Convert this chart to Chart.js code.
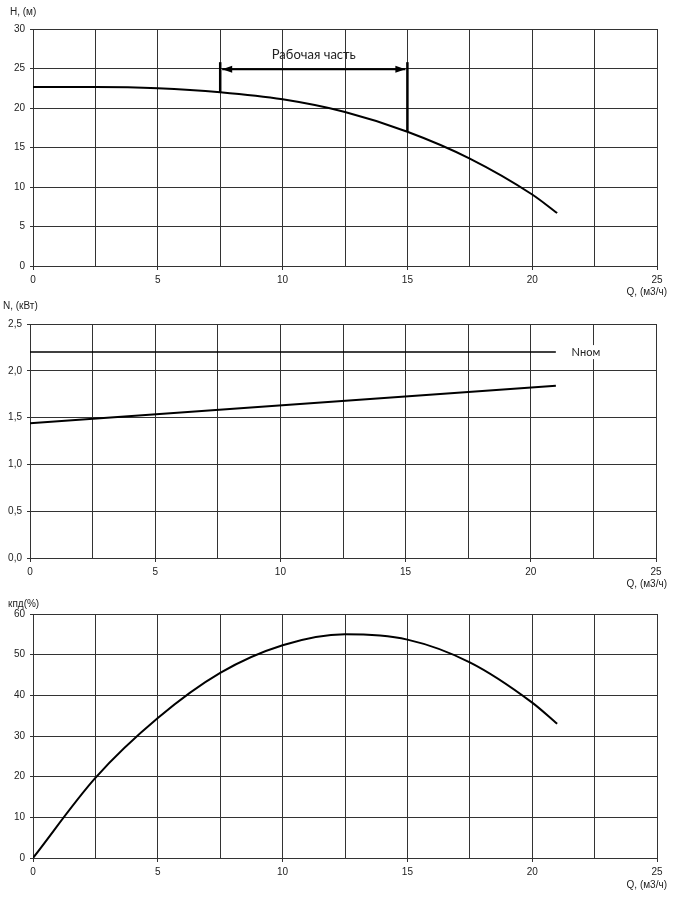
<!DOCTYPE html>
<html>
<head>
<meta charset="utf-8">
<script src="https://cdn.jsdelivr.net/npm/chart.js@4.4.1/dist/chart.umd.min.js"></script>
<style>
  body { margin: 0; background: #fff; }
  canvas { display: block; }
</style>
</head>
<body>
<canvas id="head-chart" width="673" height="300"></canvas>
<canvas id="power-chart" width="673" height="290"></canvas>
<canvas id="eff-chart" width="673" height="310"></canvas>
<script>
// H(Q) curve
const qHead = [0, 2.5, 5, 7.5, 10, 12.5, 15, 17.5, 20, 21];
const headValues = [22.65, 22.65, 22.5, 22.0, 21.1, 19.5, 17.0, 13.6, 9.05, 6.7];

// working range bracket (Q from / to, top of bracket, arrow level, label level)
const workRange = [7.5, 15];
const workBottom = [22.0, 17.0];
const workTop = 25.8;
const workArrow = 24.9;
const workLabelH = 26.7;

// N(Q) curve
const qPower = [0, 21];
const powerValues = [1.44, 1.84];
const nominalPower = [2.2, 2.2];

// efficiency curve
const qEff = [0, 2.5, 5, 7.5, 10, 12.5, 15, 17.5, 20, 21];
const effValues = [0, 19.7, 34.4, 45.5, 52.3, 55.0, 53.7, 48.1, 38.2, 33.0];

const xTicks = [0, 5, 10, 15, 20, 25];

const FONT = '"Liberation Sans", Arial, sans-serif';
const GRID = '#333';

function pts(xs, ys) {
  return xs.map((x, i) => ({ x: x, y: ys[i] }));
}

function curve(data, width) {
  return {
    data: data,
    showLine: true,
    borderColor: '#000',
    borderWidth: width || 2,
    pointRadius: 0,
    cubicInterpolationMode: 'monotone',
    fill: false
  };
}

// axis titles and small annotations, drawn at fixed spots / data coords
const textsPlugin = {
  id: 'texts',
  afterDraw(chart, args, opts) {
    const c = chart.ctx;
    c.save();
    c.fillStyle = '#222';
    c.font = '10px ' + FONT;
    c.textBaseline = 'middle';
    c.textAlign = 'left';
    c.fillText(opts.yTitle, opts.yTitleX, opts.yTitleY);
    c.textAlign = 'right';
    c.fillText('Q, (м3/ч)', 667, opts.xTitleY);
    c.restore();
  },
  afterDatasetsDraw(chart, args, opts) {
    const c = chart.ctx;
    const xs = chart.scales.x, ys = chart.scales.y;
    c.save();
    if (opts.work) {
      const x1 = xs.getPixelForValue(workRange[0]);
      const x2 = xs.getPixelForValue(workRange[1]);
      const y = ys.getPixelForValue(workArrow);
      c.strokeStyle = '#000';
      c.fillStyle = '#000';
      c.lineWidth = 2;
      c.beginPath();
      c.moveTo(x1 + 2, y);
      c.lineTo(x2 - 2, y);
      c.stroke();
      [[x1 + 2, 1], [x2 - 2, -1]].forEach(([px, dir]) => {
        c.beginPath();
        c.moveTo(px, y);
        c.lineTo(px + dir * 10, y - 3.5);
        c.lineTo(px + dir * 10, y + 3.5);
        c.closePath();
        c.fill();
      });
      c.font = '13px Lato, "Open Sans", sans-serif';
      c.textAlign = 'center';
      c.textBaseline = 'middle';
      c.fillStyle = '#222';
      c.fillText('Рабочая часть', xs.getPixelForValue((workRange[0] + workRange[1]) / 2), ys.getPixelForValue(workLabelH));
    }
    if (opts.nom) {
      const px = xs.getPixelForValue(22.2);
      const py = ys.getPixelForValue(nominalPower[0]);
      c.font = '11px Lato, "Open Sans", sans-serif';
      c.textAlign = 'center';
      c.textBaseline = 'middle';
      const w = c.measureText('Nном').width;
      c.fillStyle = '#fff';
      c.fillRect(px - w / 2 - 2, py - 7, w + 4, 14);
      c.fillStyle = '#222';
      c.fillText('Nном', px, py);
    }
    c.restore();
  }
};

function makeChart(id, cfg) {
  const ctx = document.getElementById(id).getContext('2d');
  return new Chart(ctx, {
    type: 'scatter',
    data: { datasets: cfg.datasets },
    options: {
      responsive: false,
      animation: false,
      layout: { padding: { top: cfg.padTop, right: cfg.padRight, left: 0, bottom: 0 } },
      plugins: {
        legend: { display: false },
        tooltip: { enabled: false },
        texts: cfg.texts
      },
      scales: {
        x: {
          type: 'linear',
          min: 0,
          max: 25,
          afterBuildTicks: scale => {
            const t = [];
            for (let v = 0; v <= 25; v += 2.5) t.push({ value: v });
            scale.ticks = t;
          },
          afterFit: scale => { scale.height = cfg.xHeight; },
          grid: {
            color: GRID,
            lineWidth: 1,
            tickLength: 4,
            tickColor: c => (c.tick && xTicks.includes(c.tick.value)) ? GRID : 'rgba(0,0,0,0)'
          },
          border: { color: GRID, width: 1 },
          ticks: {
            autoSkip: false,
            maxRotation: 0,
            padding: 4,
            color: '#222',
            font: { family: FONT, size: 10 },
            callback: v => xTicks.includes(v) ? String(v) : ''
          }
        },
        y: {
          min: cfg.yMin,
          max: cfg.yMax,
          afterFit: scale => { scale.width = cfg.yWidth; },
          grid: { color: GRID, lineWidth: 1, tickLength: 3 },
          border: { color: GRID, width: 1 },
          ticks: {
            stepSize: cfg.yStep,
            padding: 5,
            color: '#222',
            font: { family: FONT, size: 10 },
            callback: cfg.yFormat
          }
        }
      }
    },
    plugins: [textsPlugin]
  });
}

const headBracketL = curve(pts([workRange[0], workRange[0]], [workTop, workBottom[0]]), 2.5);
const headBracketR = curve(pts([workRange[1], workRange[1]], [workTop, workBottom[1]]), 2.5);

makeChart('head-chart', {
  datasets: [curve(pts(qHead, headValues)), headBracketL, headBracketR],
  padTop: 29, padRight: 16, xHeight: 34, yWidth: 33,
  yMin: 0, yMax: 30, yStep: 5,
  yFormat: v => String(v),
  texts: { yTitle: 'H, (м)', yTitleX: 10, yTitleY: 12, xTitleY: 292, work: true }
});

makeChart('power-chart', {
  datasets: [
    curve(pts(qPower, nominalPower), 1.5),
    curve(pts(qPower, powerValues))
  ],
  padTop: 24, padRight: 17, xHeight: 32, yWidth: 30,
  yMin: 0, yMax: 2.5, yStep: 0.5,
  yFormat: v => v.toFixed(1).replace('.', ','),
  texts: { yTitle: 'N, (кВт)', yTitleX: 3, yTitleY: 6, xTitleY: 284, nom: true }
});

makeChart('eff-chart', {
  datasets: [curve(pts(qEff, effValues))],
  padTop: 24, padRight: 16, xHeight: 42, yWidth: 33,
  yMin: 0, yMax: 60, yStep: 10,
  yFormat: v => String(v),
  texts: { yTitle: 'кпд(%)', yTitleX: 8, yTitleY: 14, xTitleY: 295 }
});
</script>
</body>
</html>
